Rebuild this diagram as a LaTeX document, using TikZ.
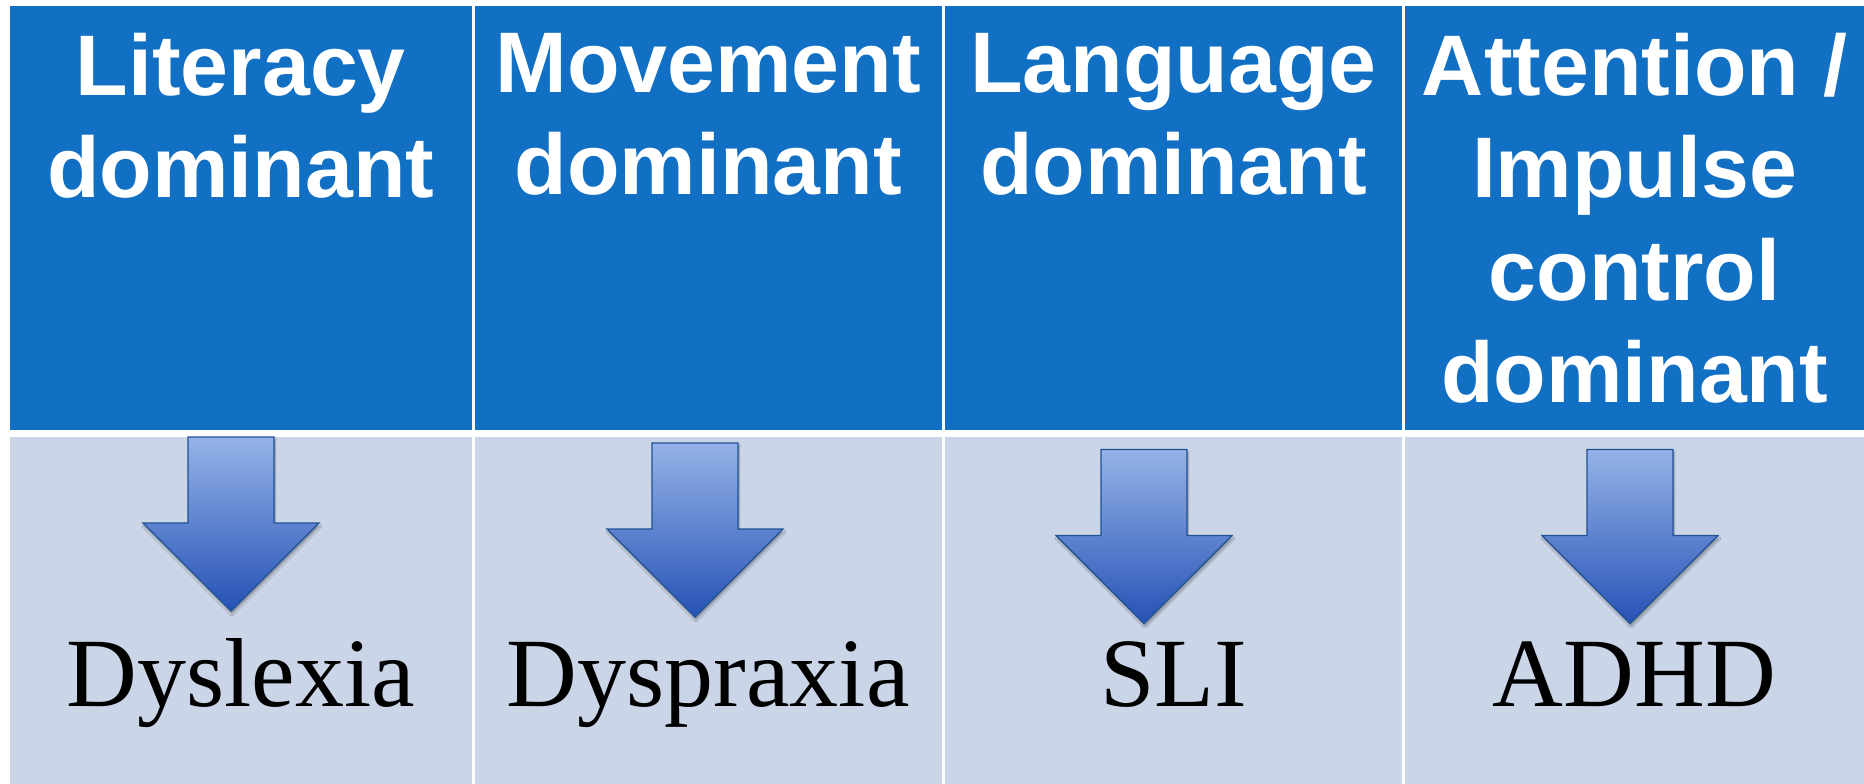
\documentclass[tikz,border=0pt]{standalone}
\usepackage{fontspec}
\setmainfont{Liberation Serif}
\newfontfamily\headfont{Liberation Sans}
\usepackage{xcolor}
\usepackage{tikz}
\usetikzlibrary{positioning,shadows.blur}
\definecolor{headblue}{HTML}{1170C4}
\definecolor{cellblue}{HTML}{CBD5E8}
\definecolor{arrtop}{HTML}{95B3E8}
\definecolor{arrbot}{HTML}{2652B6}
\definecolor{arredge}{HTML}{1E5294}

\begin{document}
\begin{tikzpicture}[
  x=1pt,y=-1pt,
  head/.style={fill=headblue,draw=none,minimum height=424pt,inner sep=0pt},
  body/.style={fill=cellblue,draw=none,minimum height=347pt,inner sep=0pt},
  headtxt/.style={text=white,align=center,inner sep=0pt,
    font=\headfont\bfseries\fontsize{86}{102.5}\selectfont,
    execute at begin node=\strut},
  lab/.style={text=black,inner sep=0pt,anchor=base,font=\fontsize{98}{110}\selectfont},
  arr/.style={top color=arrtop,bottom color=arrbot,draw=arredge,line width=1.3pt,
    line join=miter,blur shadow={shadow xshift=1pt,shadow yshift=-3pt,
    shadow blur steps=6,shadow opacity=35}}
]
\useasboundingbox (0,0) rectangle (1864,784);
\fill[white] (0,0) rectangle (1864,784);
% header row
\node[head,minimum width=461.5pt] (h1) at (240.75,218) {};
\node[head,minimum width=467.5pt] (h2) at (708.25,218) {};
\node[head,minimum width=457pt] (h3) at (1173.5,218) {};
\node[head,minimum width=459pt] (h4) at (1634.5,218) {};
\node[headtxt,below=27pt of h1.north] (t1) {Literacy\\dominant};
\node[headtxt,below=27pt of h2.north] (t2) {Movement\\dominant};
\node[headtxt,below=27pt of h3.north] (t3) {Language\\dominant};
\node[headtxt,below=27pt of h4.north] (t4) {Attention /\\Impulse\\control\\dominant};
% body row
\node[body,minimum width=461.5pt] (b1) at (240.75,610.5) {};
\node[body,minimum width=467.5pt] (b2) at (708.25,610.5) {};
\node[body,minimum width=457pt] (b3) at (1173.5,610.5) {};
\node[body,minimum width=459pt] (b4) at (1634.5,610.5) {};
% block arrows
\path[arr] (188,437) -- ++(86,0) -- ++(0,86) -- ++(45,0) -- ++(-88,88)
  -- ++(-88,-88) -- ++(45,0) -- cycle;
\path[arr] (652,443) -- ++(86,0) -- ++(0,86) -- ++(45,0) -- ++(-88,88)
  -- ++(-88,-88) -- ++(45,0) -- cycle;
\path[arr] (1101,449.5) -- ++(86,0) -- ++(0,86) -- ++(45,0) -- ++(-88,88)
  -- ++(-88,-88) -- ++(45,0) -- cycle;
\path[arr] (1587,449.5) -- ++(86,0) -- ++(0,86) -- ++(45,0) -- ++(-88,88)
  -- ++(-88,-88) -- ++(45,0) -- cycle;
% labels
\node[lab] (l1) at (240.75,706) {Dyslexia};
\node[lab] (l2) at (708.25,706) {Dyspraxia};
\node[lab] (l3) at (1173.5,706) {SLI};
\node[lab] (l4) at (1634.5,706) {ADHD};
\end{tikzpicture}
\end{document}
